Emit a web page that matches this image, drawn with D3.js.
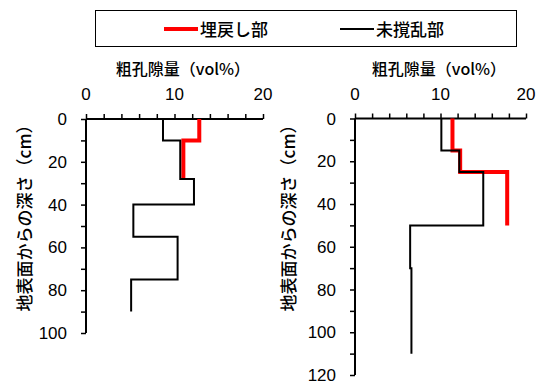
<!DOCTYPE html>
<html>
<head>
<meta charset="utf-8">
<script src="https://cdn.jsdelivr.net/npm/d3@7"></script>
<style>
  body { margin: 0; background: #fff; }
  text { font-family: "Liberation Sans", Arial, "Noto Sans CJK JP", sans-serif; fill: #000; }
  .jp { font-family: "Noto Sans CJK JP", sans-serif; font-weight: 500; }
</style>
</head>
<body>
<svg id="chart" width="537" height="385"></svg>
<script>
// layer boundaries (cm) and coarse porosity (vol%) per layer
const leftUndisturbedDepth = [0, 10, 28, 40, 55, 75, 90]
const leftUndisturbedValue = [8.7, 10.65, 12.2, 5.35, 10.35, 5.1]
const leftBackfillDepth = [0, 10, 28]
const leftBackfillValue = [12.8, 11.0]

const rightUndisturbedDepth = [0, 15, 25, 50, 70, 110]
const rightUndisturbedValue = [10.1, 12.2, 15.0, 6.45, 6.6]
const rightBackfillDepth = [0, 15, 25, 50]
const rightBackfillValue = [11.4, 12.3, 17.8]

const xTicks = [0, 10, 20]
const seriesNames = ['埋戻し部', '未撹乱部']

const svg = d3.select('#chart')

function steps(depth, value) {
  const pts = []
  for (let i = 0; i < value.length; i++) {
    pts.push([value[i], depth[i]])
    pts.push([value[i], depth[i + 1]])
  }
  return pts
}

function panel(opts) {
  const x = d3.scaleLinear().domain([0, 20]).range([opts.x0, opts.x1])
  const y = d3.scaleLinear().domain([0, opts.yMax]).range([opts.y0, opts.y1])
  const g = svg.append('g')

  // top axis: minor ticks every 2
  const xa = g.append('g').attr('transform', `translate(0,${opts.y0})`)
    .call(d3.axisTop(x).tickValues(d3.range(0, 21, 2)).tickSize(5).tickFormat(''))
  xa.select('.domain').attr('stroke-width', 2).attr('d', `M${opts.x0},0H${opts.x1}`)
  xa.selectAll('.tick line').attr('stroke-width', 1.5)
  g.selectAll('.xl').data(xTicks).enter().append('text')
    .attr('x', d => x(d)).attr('y', opts.y0 - 19)
    .attr('text-anchor', 'middle').attr('font-size', 17).text(d => d)

  const ya = g.append('g').attr('transform', `translate(${opts.x0},0)`)
    .call(d3.axisLeft(y).tickValues(d3.range(0, opts.yMax + 1, 10)).tickSize(5).tickFormat(''))
  ya.select('.domain').attr('stroke-width', 2).attr('d', `M0,${opts.y0}V${opts.y1}`)
  ya.selectAll('.tick line').attr('stroke-width', 1.5)
  g.selectAll('.yl').data(d3.range(0, opts.yMax + 1, 20)).enter().append('text')
    .attr('x', opts.x0 - 19).attr('y', d => y(d) + 6)
    .attr('text-anchor', 'end').attr('font-size', 17).text(d => d)

  g.append('text').attr('class', 'jp')
    .attr('x', opts.tc).attr('y', 75)
    .attr('text-anchor', 'middle').attr('font-size', 16).text('粗孔隙量（vol%）')
  g.append('text').attr('class', 'jp')
    .attr('transform', `translate(${opts.tx},214) rotate(-90)`)
    .attr('text-anchor', 'middle').attr('font-size', 17).text('地表面からの深さ（cm）')

  const line = d3.line().x(d => x(d[0])).y(d => y(d[1]))
  g.append('path').datum(steps(opts.bd, opts.bv))
    .attr('d', line).attr('fill', 'none').attr('stroke', '#ff0000').attr('stroke-width', 4)
  g.append('path').datum(steps(opts.ud, opts.uv))
    .attr('d', line).attr('fill', 'none').attr('stroke', '#000').attr('stroke-width', 2)
}

panel({ x0: 86, x1: 263, y0: 119, y1: 333, yMax: 100, tx: 31, tc: 183,
  ud: leftUndisturbedDepth, uv: leftUndisturbedValue, bd: leftBackfillDepth, bv: leftBackfillValue })
panel({ x0: 355, x1: 526, y0: 118.5, y1: 375, yMax: 120, tx: 295, tc: 439,
  ud: rightUndisturbedDepth, uv: rightUndisturbedValue, bd: rightBackfillDepth, bv: rightBackfillValue })

// legend
const lg = svg.append('g')
lg.append('rect').attr('x', 95.5).attr('y', 10.5).attr('width', 421).attr('height', 36)
  .attr('fill', '#fff').attr('stroke', '#000').attr('stroke-width', 1)
const legendItems = [
  { name: seriesNames[0], color: '#ff0000', w: 4, x: 164 },
  { name: seriesNames[1], color: '#000', w: 2, x: 340 }
]
legendItems.forEach(d => {
  lg.append('line').attr('x1', d.x).attr('x2', d.x + 34).attr('y1', 29).attr('y2', 29)
    .attr('stroke', d.color).attr('stroke-width', d.w)
  lg.append('text').attr('class', 'jp').attr('x', d.x + 36).attr('y', 36)
    .attr('font-size', 17).text(d.name)
})
</script>
</body>
</html>
